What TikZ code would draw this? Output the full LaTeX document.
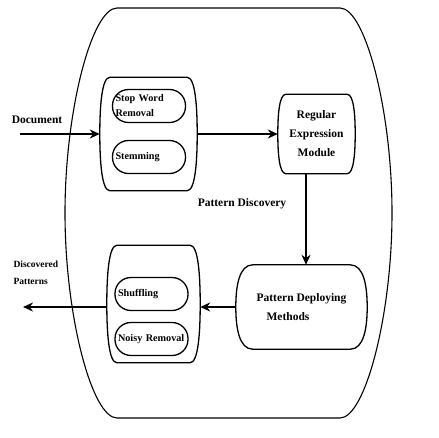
\documentclass[tikz,border=0pt]{standalone}
\usepackage{fontspec}
\setmainfont{Liberation Serif}
\usetikzlibrary{arrows.meta,positioning}

% barrel outline round a node: #1 node, #2 bulge, #3 side control
\newcommand\barrel[3]{%
  \draw[line width=1.3pt]
    ([xshift=#2]#1.north west) -- ([xshift=-#2]#1.north east)
    .. controls ([xshift=-0.2*#2]#1.north east) and ([yshift=#3]#1.east) .. (#1.east)
    .. controls ([yshift=-#3]#1.east) and ([xshift=-0.2*#2]#1.south east)
    .. ([xshift=-#2]#1.south east)
    -- ([xshift=#2]#1.south west)
    .. controls ([xshift=0.2*#2]#1.south west) and ([yshift=-#3]#1.west) .. (#1.west)
    .. controls ([yshift=#3]#1.west) and ([xshift=0.2*#2]#1.north west)
    .. ([xshift=#2]#1.north west) -- cycle;}

\begin{document}
\begin{tikzpicture}[
  x=1pt,
  y=-1pt,
  pill/.style={
    draw,
    line width=1.3pt,
    rectangle,
    rounded corners=16pt,
    minimum width=73pt,
    minimum height=33pt,
    inner xsep=3pt,
    text width=67pt,
    align=left,
    font=\fontsize{10.2}{15}\selectfont\bfseries
  },
  holder/.style={
    rectangle,
    inner sep=0pt
  },
  module/.style={
    rectangle,
    inner sep=0pt,
    font=\fontsize{11.5}{19}\selectfont\bfseries
  },
  flow/.style={-{Stealth[length=10pt,width=9pt]},line width=1.4pt},
  note/.style={font=\fontsize{11.5}{19}\selectfont\bfseries}
]
\useasboundingbox (0,0) rectangle (439,437);

% outer container
\draw[line width=1.1pt]
  (117,8) -- (340,8)
  .. controls (365,8) and (392,110) .. (392,213)
  .. controls (392,316) and (365,418) .. (340,418)
  -- (117,418)
  .. controls (92,418) and (65,316) .. (65,213)
  .. controls (65,110) and (92,8) .. (117,8) -- cycle;

% preprocessing
\node[holder,minimum width=97pt,minimum height=113pt] (pre) at (148.5,134) {};
\barrel{pre}{10pt}{28pt}
\node[pill] (stop) at (149,106) {Stop Word\\Removal};
\node[pill] (stem) at (149,157) {Stemming};

\node[module,align=center,minimum width=77pt,minimum height=79pt]
  (regex) at (316.5,134) {Regular\\Expression\\Module};
\barrel{regex}{8pt}{20pt}

\node[module,align=left,minimum width=131pt,minimum height=84pt]
  (deploy) at (301.5,307) {Pattern Deploying\\\hspace*{10pt}Methods};
\barrel{deploy}{17pt}{21pt}

% postprocessing
\node[holder,minimum width=93pt,minimum height=117pt] (post) at (153.5,304) {};
\barrel{post}{10pt}{29pt}
\node[pill] (shuf) at (151.5,294) {Shuffling};
\node[pill] (noisy) at (151.5,339) {Noisy Removal};

\node[note] (disc) at (242,204) {Pattern Discovery};
\node[note] (doc) at (37,120) {Document};
\node[note,align=left,font=\fontsize{9.5}{17}\selectfont\bfseries,
  anchor=west] (out) at (10,273) {Discovered\\Patterns};

\coordinate (docin) at (20,134);
\coordinate (outp) at (23,304);

\draw[flow] (docin) -- (pre.west);
\draw[flow] (pre.east) -- (pre.east -| regex.west);
\draw[flow] ([xshift=4.5pt]deploy.north |- regex.south) -- ([xshift=4.5pt]deploy.north);
\draw[flow] (deploy.west) -- (deploy.west -| post.east);
\draw[flow] (post.west |- deploy.west) -- (outp |- deploy.west);
\end{tikzpicture}
\end{document}
